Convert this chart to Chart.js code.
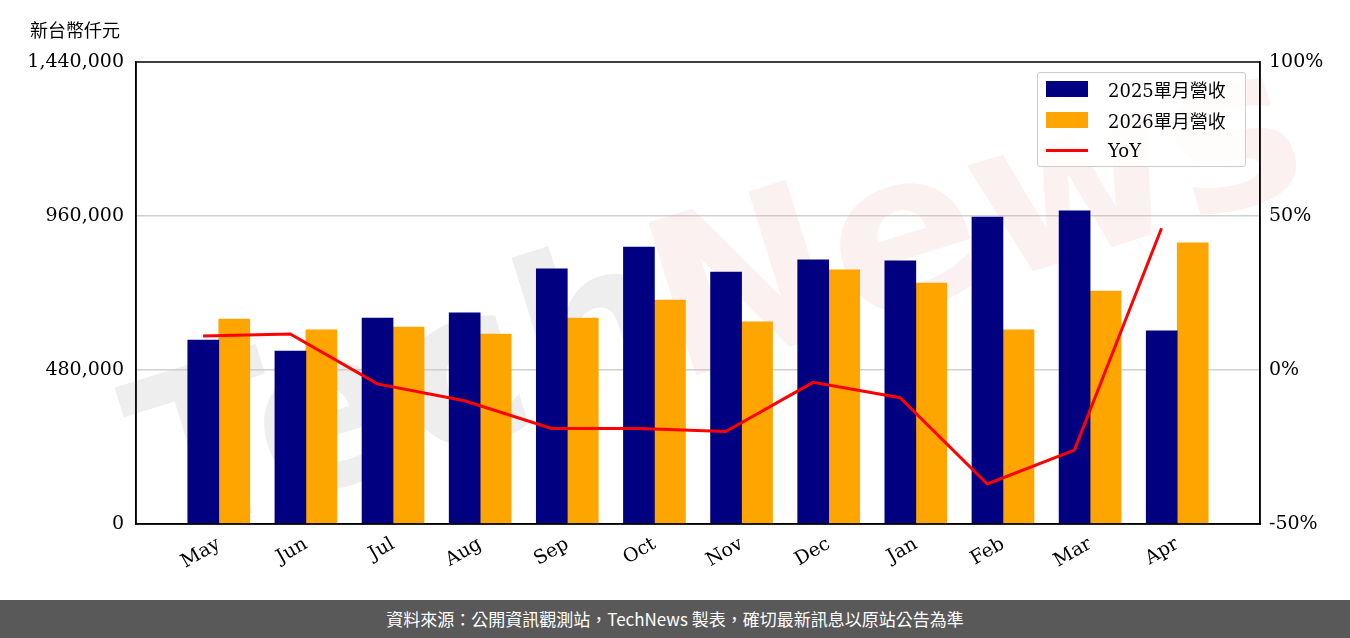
<!DOCTYPE html>
<html lang="zh-Hant">
<head>
<meta charset="UTF-8">
<title>單月營收</title>
<script src="https://cdn.jsdelivr.net/npm/chart.js@4"></script>
<style>
body { margin: 0; background: #fff; font-family: "DejaVu Serif", "Noto Sans CJK TC", serif; }
#wrap { position: relative; width: 1350px; height: 600px; }
#unit { position: absolute; left: 30px; top: 16px; font-size: 18px; font-family: "Noto Sans CJK TC", sans-serif; }
#legend { position: absolute; left: 1037px; top: 72px; width: 207px; height: 93px; border: 1px solid #ccc; border-radius: 3px; background: rgba(255,255,255,0.8); font-size: 18px; }
#legend div { height: 31px; display: flex; align-items: center; padding-left: 8px; }
#legend span.p { display: inline-block; width: 42px; height: 16px; margin-right: 20px; }
#legend span.l { display: inline-block; width: 42px; height: 3px; background: red; margin-right: 20px; }
#foot { width: 1350px; height: 38px; background: #595959; color: #fff; text-align: center; line-height: 38px; font-size: 17px; font-family: "Noto Sans CJK TC", sans-serif; }
</style>
</head>
<body>
<div id="wrap">
    <canvas id="myChart" width="1350" height="600"></canvas>
    <div id="unit">新台幣仟元</div>
    <div id="legend">
        <div><span class="p" style="background:#000080"></span>2025單月營收</div>
        <div><span class="p" style="background:#ffa500"></span>2026單月營收</div>
        <div><span class="l"></span>YoY</div>
    </div>
</div>
<div id="foot">資料來源：公開資訊觀測站，TechNews 製表，確切最新訊息以原站公告為準</div>
<script>
const months = ["May", "Jun", "Jul", "Aug", "Sep", "Oct", "Nov", "Dec", "Jan", "Feb", "Mar", "Apr"];
const rev2025 = [573000, 539000, 642000, 658000, 795000, 863000, 785000, 823000, 820000, 957000, 976000, 602000];
const rev2026 = [639000, 605000, 614000, 592000, 642000, 698000, 630000, 792000, 751000, 605000, 726000, 876000];
const yoy = [11, 11.7, -4.5, -10, -19, -19, -20, -4, -9, -37, -26, 46];

const pts = (arr, shift) => arr.map((v, i) => ({ x: i + shift, y: v }));

const watermark = {
    id: 'watermark',
    beforeDatasetsDraw(chart) {
        const c = chart.ctx;
        c.save();
        c.translate(640, 330);
        c.rotate(-0.3);
        c.font = 'bold 220px "DejaVu Sans"';
        c.fillStyle = 'rgba(200,200,200,0.3)';
        c.fillText('Tech', -520, 60);
        c.fillStyle = 'rgba(240,180,180,0.18)';
        c.fillText('News', 20, 60);
        c.restore();
    }
};

// black frame around the plot area
const frame = {
    id: 'frame',
    afterDraw(chart) {
        const a = chart.chartArea, c = chart.ctx;
        c.save();
        c.strokeStyle = '#000';
        c.lineWidth = 1.5;
        c.strokeRect(a.left, a.top, a.right - a.left, a.bottom - a.top);
        c.restore();
    }
};

const font = { family: '"DejaVu Serif", serif', size: 19 };

new Chart(document.getElementById('myChart'), {
    type: 'bar',
    data: {
        datasets: [{
            type: 'line',
            data: pts(yoy, -0.18),   // line sits on the 2025 bar centres
            yAxisID: 'y1',
            borderColor: 'red',
            borderWidth: 3,
            pointRadius: 0,
            order: 0
        }, {
            data: pts(rev2025, 0),
            backgroundColor: '#000080',
            barThickness: 31,
            order: 1
        }, {
            data: pts(rev2026, 0),
            backgroundColor: '#ffa500',
            barThickness: 31,
            order: 1
        }]
    },
    options: {
        responsive: false,
        animation: false,
        layout: { padding: { left: 0, right: 0, top: 62, bottom: 0 } },
        plugins: { legend: { display: false }, tooltip: { enabled: false } },
        scales: {
            x: {
                type: 'linear',
                offset: false,
                min: -0.95, max: 11.95,
                grid: { display: false, drawTicks: true, tickLength: 6 },
                border: { color: '#000', width: 1.5 },
                afterBuildTicks: (s) => { s.ticks = months.map((m, i) => ({ value: i })); },
                afterFit: (s) => { s.height = 76; },
                ticks: {
                    color: '#000', font: font, minRotation: 30, maxRotation: 30,
                    callback: (v) => months[v]
                }
            },
            y: {
                min: 0, max: 1440000,
                border: { color: '#000', width: 1.5 },
                grid: { color: (c) => (c.tick.value > 0 && c.tick.value < 1440000) ? '#d0d0d0' : 'transparent', lineWidth: 1.5, drawTicks: false },
                afterFit: (s) => { s.width = 136; },
                ticks: { stepSize: 480000, color: '#000', font: font, padding: 12,
                    callback: (v) => v.toLocaleString('en-US') }
            },
            y1: {
                position: 'right',
                min: -50, max: 100,
                border: { color: '#000', width: 1.5 },
                grid: { display: false, tickLength: 6 },
                afterFit: (s) => { s.width = 90; },
                ticks: { stepSize: 50, color: '#000', font: font, callback: (v) => v + '%' }
            }
        }
    },
    plugins: [watermark, frame]
});
</script>
</body>
</html>
